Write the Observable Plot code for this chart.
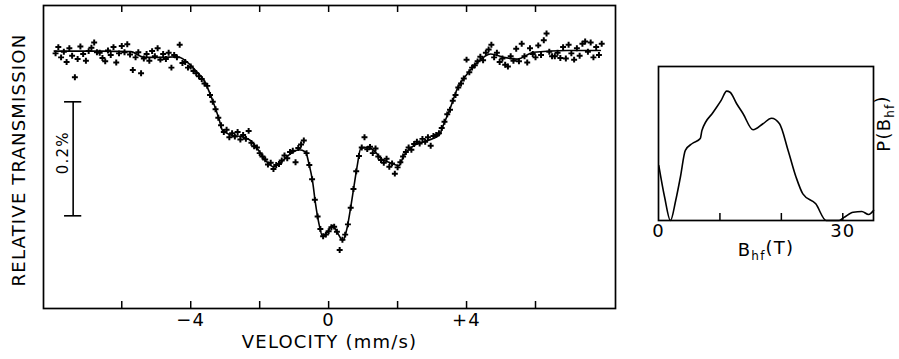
<!DOCTYPE html>
<html>
<head>
<meta charset="utf-8">
<script src="https://cdn.jsdelivr.net/npm/d3@7"></script>
<script src="https://cdn.jsdelivr.net/npm/@observablehq/plot@0.6"></script>
<style>
  html, body { margin: 0; padding: 0; background: #fff; }
  #chart { position: relative; width: 899px; height: 359px; overflow: hidden; background: #fff; }
  #chart svg { position: absolute; top: 0; overflow: visible; }
  #chart svg text { letter-spacing: 1.2px; }
</style>
</head>
<body>
<div id="chart"></div>
<script>
// ---------- Data: Mössbauer spectrum (absorption depth in %) ----------
const velocityTicks = [-6, -4, -2, 0, 2, 4, 6];
const velocityLabels = [-4, 0, 4];

// fitted curve: [velocity (mm/s), absorption (%)]
const fitCurve = [
  [-7.96,0.001],[-6.60,0.001],[-5.74,0.002],[-5.35,0.012],[-4.87,0.012],[-4.39,0.011],
  [-4.00,0.026],[-3.83,0.037],[-3.61,0.053],[-3.48,0.070],[-3.32,0.095],[-3.18,0.120],
  [-3.08,0.140],[-2.84,0.148],[-2.46,0.152],[-2.26,0.158],[-2.07,0.172],[-1.83,0.193],
  [-1.59,0.204],[-1.39,0.196],[-1.10,0.181],[-0.86,0.174],[-0.67,0.178],[-0.57,0.199],
  [-0.47,0.228],[-0.38,0.269],[-0.28,0.304],[-0.18,0.325],[-0.04,0.319],[0.11,0.307],
  [0.25,0.319],[0.41,0.333],[0.54,0.310],[0.64,0.275],[0.73,0.240],[0.83,0.202],
  [0.93,0.172],[1.12,0.170],[1.31,0.175],[1.51,0.189],[1.75,0.196],[2.04,0.202],
  [2.18,0.184],[2.47,0.167],[2.86,0.158],[3.20,0.149],[3.34,0.129],[3.54,0.099],
  [3.73,0.067],[4.02,0.041],[4.31,0.021],[4.70,0.006],[5.08,0.012],[5.47,0.015],
  [5.95,0.003],[6.92,0.000],[7.88,0.000]
];

// measured points: [velocity (mm/s), absorption (%)]
const measured = [
  [-7.92,0.005],[-7.84,-0.006],[-7.76,0.012],[-7.68,0.002],[-7.60,0.020],[-7.52,-0.004],
  [-7.44,0.009],[-7.36,0.047],[-7.28,0.015],[-7.20,-0.007],[-7.12,0.006],[-7.04,0.018],
  [-6.96,0.001],[-6.88,-0.005],[-6.80,-0.014],[-6.72,0.003],[-6.64,0.004],[-6.56,0.013],
  [-6.48,0.019],[-6.40,0.000],[-6.32,0.008],[-6.24,-0.006],[-6.16,0.021],[-6.08,0.005],
  [-6.00,-0.008],[-5.92,0.003],[-5.84,-0.011],[-5.76,0.007],[-5.68,0.034],[-5.60,0.012],
  [-5.52,0.003],[-5.44,0.040],[-5.36,0.014],[-5.28,0.006],[-5.20,0.018],[-5.12,0.001],
  [-5.04,0.010],[-4.96,-0.004],[-4.88,0.016],[-4.80,0.006],[-4.72,0.015],[-4.64,0.004],
  [-4.56,0.030],[-4.48,0.008],[-4.40,0.012],[-4.32,-0.010],[-4.24,0.022],[-4.16,0.020],
  [-4.08,0.030],[-4.00,0.028],[-3.92,0.036],[-3.84,0.040],[-3.76,0.045],[-3.68,0.050],
  [-3.60,0.058],[-3.52,0.062],[-3.44,0.078],[-3.36,0.090],[-3.28,0.103],[-3.20,0.118],
  [-3.12,0.131],[-3.04,0.143],[-2.96,0.139],[-2.88,0.152],[-2.80,0.145],[-2.72,0.151],
  [-2.64,0.143],[-2.56,0.156],[-2.48,0.148],[-2.40,0.155],[-2.32,0.141],[-2.24,0.162],
  [-2.16,0.168],[-2.08,0.170],[-2.00,0.180],[-1.92,0.186],[-1.84,0.191],[-1.76,0.200],
  [-1.68,0.197],[-1.60,0.208],[-1.52,0.201],[-1.44,0.199],[-1.36,0.193],[-1.28,0.184],
  [-1.20,0.189],[-1.12,0.178],[-1.04,0.176],[-0.96,0.196],[-0.88,0.171],[-0.80,0.165],
  [-0.72,0.158],[-0.64,0.180],[-0.56,0.201],[-0.48,0.226],[-0.40,0.262],[-0.32,0.291],
  [-0.24,0.313],[-0.16,0.326],[-0.08,0.323],[0.00,0.317],[0.08,0.310],[0.16,0.309],
  [0.24,0.318],[0.32,0.350],[0.40,0.332],[0.48,0.323],[0.56,0.305],[0.64,0.276],
  [0.72,0.243],[0.80,0.212],[0.88,0.185],[0.96,0.170],[1.04,0.152],[1.12,0.173],
  [1.20,0.169],[1.28,0.180],[1.36,0.172],[1.44,0.186],[1.52,0.192],[1.60,0.197],
  [1.68,0.190],[1.76,0.204],[1.84,0.198],[1.92,0.216],[2.00,0.205],[2.08,0.196],
  [2.16,0.186],[2.24,0.178],[2.32,0.170],[2.40,0.174],[2.48,0.164],[2.56,0.160],
  [2.64,0.163],[2.72,0.155],[2.80,0.160],[2.88,0.152],[2.96,0.167],[3.04,0.150],
  [3.12,0.148],[3.20,0.145],[3.28,0.136],[3.36,0.125],[3.44,0.112],[3.52,0.104],
  [3.60,0.088],[3.68,0.078],[3.76,0.065],[3.84,0.058],[3.92,0.049],[4.00,0.016],
  [4.08,0.038],[4.16,0.030],[4.24,0.026],[4.32,0.019],[4.40,0.011],[4.48,0.017],
  [4.56,0.004],[4.64,-0.002],[4.72,-0.010],[4.80,0.012],[4.88,0.004],[4.96,0.020],
  [5.04,0.014],[5.12,0.025],[5.20,0.028],[5.28,0.010],[5.36,0.018],[5.44,-0.003],
  [5.52,0.019],[5.60,-0.012],[5.68,0.010],[5.76,0.021],[5.84,-0.004],[5.92,0.006],
  [6.00,0.012],[6.08,-0.009],[6.16,0.008],[6.24,-0.018],[6.32,-0.030],[6.40,0.002],
  [6.48,0.010],[6.56,0.010],[6.64,0.004],[6.72,0.013],[6.80,-0.006],[6.88,0.014],
  [6.96,-0.010],[7.04,0.005],[7.12,0.016],[7.20,-0.004],[7.28,0.009],[7.36,-0.012],
  [7.44,-0.016],[7.52,0.002],[7.60,-0.014],[7.68,0.012],[7.76,-0.006],[7.84,0.008],
  [7.92,-0.012]
];

// scale bar: 0.2 % of relative transmission
const scaleBarVelocity = -7.41;
const scaleBarRange = [0.09, 0.29];
const scaleBarLabel = "0.2%";

// hyperfine field distribution
const bhfField = [0.05,1.0,1.94,2.8,3.56,4.37,5.5,6.8,7.07,8.9,10.2,11.1,11.65,12.7,13.75,15.4,17.0,18.4,19.7,21.1,22.4,23.5,25.6,27.3,29.4,30.2,31.7,33.1,34.2,35.0];
const bhfProb  = [0.357,0.151,0.0,0.13,0.281,0.455,0.50,0.532,0.584,0.703,0.78,0.840,0.833,0.76,0.695,0.589,0.628,0.664,0.628,0.455,0.281,0.173,0.108,0.0,0.0,0.02,0.054,0.058,0.039,0.065];
const bhfTicks = [10, 20, 30];
const bhfLabels = [0, 30];

// ---------- Layout ----------
const FONT = "DejaVu Sans";
const H = 359;
const L = {width: 640, marginLeft: 43, marginRight: 25, marginTop: 5, marginBottom: 51};
const LplotH = H - L.marginTop - L.marginBottom;
const R = {left: 640, width: 259, marginLeft: 18, marginRight: 26, marginTop: 66, marginBottom: 139};
const RplotH = H - R.marginTop - R.marginBottom;
const TICK = 7;

const fmtVel = d => d > 0 ? "+" + d : d < 0 ? "\u2212" + (-d) : "0";

const left = Plot.plot({
  width: L.width, height: H,
  marginLeft: L.marginLeft, marginRight: L.marginRight, marginTop: L.marginTop, marginBottom: L.marginBottom,
  style: {fontFamily: FONT, color: "black", background: "transparent", overflow: "visible"},
  x: {domain: [-8.27, 8.32], axis: null, label: null},
  y: {domain: [-0.079, 0.4526], reverse: true, axis: null, label: null},
  marks: [
    Plot.frame({stroke: "black", strokeWidth: 1.7}),
    Plot.ruleX(velocityTicks, {x: d => d, insetTop: LplotH - TICK, stroke: "black", strokeWidth: 1.5}),
    Plot.ruleX(velocityTicks, {x: d => d, insetBottom: LplotH - TICK, stroke: "black", strokeWidth: 1.5}),
    Plot.axisX(velocityLabels, {anchor: "bottom", tickSize: 0, tickPadding: 5, tickFormat: fmtVel, fontSize: 18, fontFamily: FONT, label: null}),
    Plot.text(["VELOCITY (mm/s)"], {frameAnchor: "bottom", dy: 34, textAnchor: "middle", lineAnchor: "middle", fontSize: 18, fontFamily: FONT}),
    Plot.text(["RELATIVE TRANSMISSION"], {frameAnchor: "left", dx: -24, dy: 3, rotate: -90, textAnchor: "middle", lineAnchor: "middle", fontSize: 18, fontFamily: FONT}),
    Plot.ruleX([scaleBarVelocity], {x: d => d, y1: scaleBarRange[0], y2: scaleBarRange[1], stroke: "black", strokeWidth: 1.6}),
    Plot.ruleY(scaleBarRange, {y: d => d, x1: scaleBarVelocity - 0.25, x2: scaleBarVelocity + 0.25, stroke: "black", strokeWidth: 1.6}),
    Plot.text([scaleBarLabel], {x: scaleBarVelocity, y: (scaleBarRange[0] + scaleBarRange[1]) / 2, dx: -10, dy: -6, rotate: -90, textAnchor: "middle", lineAnchor: "middle", fontSize: 15, fontFamily: FONT}),
    Plot.line(fitCurve, {x: d => d[0], y: d => d[1], curve: "monotone-x", stroke: "black", strokeWidth: 1.6}),
    Plot.dot(measured, {x: d => d[0], y: d => d[1], symbol: "cross", r: 2.5, fill: "black", stroke: "none"})
  ]
});

const bhfData = bhfField.map((b, i) => ({b, p: bhfProb[i]}));
const right = Plot.plot({
  width: R.width, height: H,
  marginLeft: R.marginLeft, marginRight: R.marginRight, marginTop: R.marginTop, marginBottom: R.marginBottom,
  style: {fontFamily: FONT, color: "black", background: "transparent", overflow: "visible"},
  x: {domain: [0, 35], axis: null, label: null},
  y: {domain: [0, 1], axis: null, label: null},
  marks: [
    Plot.frame({stroke: "black", strokeWidth: 1.7}),
    Plot.ruleX(bhfTicks, {x: d => d, insetTop: RplotH - TICK, stroke: "black", strokeWidth: 1.5}),
    Plot.axisX(bhfLabels, {anchor: "bottom", tickSize: 0, tickPadding: 4, tickFormat: d => String(d), fontSize: 18, fontFamily: FONT, label: null}),
    Plot.line(bhfData, {x: "b", y: "p", curve: "monotone-x", stroke: "black", strokeWidth: 1.6}),
    Plot.text(["Bhf(T)"], {frameAnchor: "bottom", dy: 30, textAnchor: "middle", lineAnchor: "middle", fontSize: 18, fontFamily: FONT}),
    Plot.text(["P(Bhf)"], {frameAnchor: "right", dx: 11, dy: -20, rotate: -90, textAnchor: "middle", lineAnchor: "middle", fontSize: 18, fontFamily: FONT})
  ]
});

const chart = document.getElementById("chart");
left.style.left = "0px";
right.style.left = R.left + "px";
chart.appendChild(left);
chart.appendChild(right);

// subscripts "hf"
function subscriptify(svg) {
  svg.querySelectorAll("text").forEach(t => {
    const s = t.textContent;
    const i = s.indexOf("Bhf");
    if (i < 0) return;
    const before = s.slice(0, i + 1), sub = "hf", after = s.slice(i + 3);
    while (t.firstChild) t.removeChild(t.firstChild);
    const ns = "http://www.w3.org/2000/svg";
    t.appendChild(document.createTextNode(before));
    const ts = document.createElementNS(ns, "tspan");
    ts.setAttribute("dy", "0.3em"); ts.setAttribute("font-size", "12"); ts.textContent = sub;
    t.appendChild(ts);
    const ta = document.createElementNS(ns, "tspan");
    ta.setAttribute("dy", "-0.3em"); ta.textContent = after;
    t.appendChild(ta);
  });
}
subscriptify(right);
</script>
</body>
</html>
